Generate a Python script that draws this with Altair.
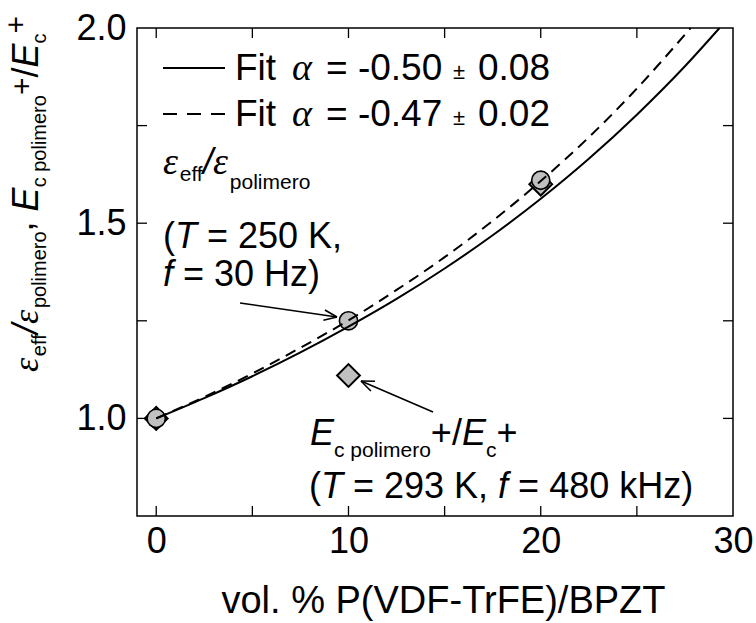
import math
import altair as alt
import pandas as pd

# ---------------- data ----------------
x_pct = [0, 10, 20]
eps_ratio = [1.0, 1.25, 1.61]          # circles: eps_eff / eps_polimero
ec_ratio = [1.0, 1.11, 1.60]           # diamonds: Ec polimero+ / Ec+

fit_x_solid = [0, 2.5, 5, 7.5, 10, 12.5, 15, 17.5, 20, 22.5, 25, 27.5, 29.3]
fit_y_solid = [1.0, 1.052, 1.108, 1.169, 1.235, 1.306, 1.384, 1.469, 1.5625, 1.665, 1.778, 1.902, 2.0]
fit_x_dash = [0, 2.5, 5, 7.5, 10, 12.5, 15, 17.5, 20, 22.5, 25, 27.5, 27.8]
fit_y_dash = [1.0, 1.055, 1.115, 1.181, 1.251, 1.329, 1.413, 1.506, 1.608, 1.720, 1.845, 1.983, 2.0]

x_major = [0, 10, 20]
x_minor = [5, 15, 25]
y_major = [1.0, 1.5]
y_minor = [1.25, 1.75]
x_labels = [0, 10, 20, 30]
y_labels = [1.0, 1.5, 2.0]

X_TITLE = "vol. % P(VDF-TrFE)/BPZT"

# ---------------- layout ----------------
W, H = 596, 488
OX, OY = 137, 28
SANS = "Liberation Sans"
SERIF = "Liberation Serif"

xs = alt.Scale(domain=[-1, 30], nice=False, zero=False)
ys = alt.Scale(domain=[0.75, 2.0], nice=False, zero=False)
xaxis = alt.Axis(values=x_labels, format="d", title=X_TITLE, labelFont=SANS, labelFontSize=36,
                 labelColor="black", ticks=False, domain=False, grid=False, labelPadding=8,
                 labelFlush=False, labelOverlap=False, titleFont=SANS, titleFontSize=38,
                 titleFontWeight="normal", titleColor="black", titleX=306, titleY=96,
                 titleBaseline="alphabetic")
yaxis = alt.Axis(values=y_labels, format=".1f", title="", labelFont=SANS, labelFontSize=36,
                 labelColor="black", ticks=False, domain=False, grid=False, labelPadding=11,
                 labelFlush=False, labelOverlap=False)


def X(field):
    return alt.X(field, type="quantitative", scale=xs, axis=xaxis)


def Y(field):
    return alt.Y(field, type="quantitative", scale=ys, axis=yaxis)


# ---------------- data layers ----------------
pts = pd.DataFrame({"x": x_pct, "eps": eps_ratio, "ec": ec_ratio})
diamonds = alt.Chart(pts).mark_point(shape="diamond", filled=True, fill="#c0c0c0", stroke="black",
                                     strokeWidth=2, size=520, opacity=1, fillOpacity=1).encode(
    x=X("x"), y=Y("ec"))
circles = alt.Chart(pts).mark_point(shape="circle", filled=True, fill="#c0c0c0", stroke="black",
                                    strokeWidth=1.6, size=330, opacity=1, fillOpacity=1).encode(
    x=X("x"), y=Y("eps"))

solid = alt.Chart(pd.DataFrame({"x": fit_x_solid, "y": fit_y_solid})).mark_line(
    color="black", strokeWidth=2, interpolate="monotone").encode(x=X("x"), y=Y("y"))
dashed = alt.Chart(pd.DataFrame({"x": fit_x_dash, "y": fit_y_dash})).mark_line(
    color="black", strokeWidth=2, strokeDash=[11, 7], interpolate="monotone").encode(x=X("x"), y=Y("y"))


# inward ticks on all four sides
def xticks(vals, length):
    d = pd.DataFrame({"v": vals})
    bottom = alt.Chart(d).mark_rule(color="black", strokeWidth=1.3).encode(
        x=X("v"), y=alt.value(H), y2=alt.value(H - length))
    top = alt.Chart(d).mark_rule(color="black", strokeWidth=1.3).encode(
        x=X("v"), y=alt.value(0), y2=alt.value(length))
    return [bottom, top]


def yticks(vals, length):
    d = pd.DataFrame({"v": vals})
    left = alt.Chart(d).mark_rule(color="black", strokeWidth=1.3).encode(
        y=Y("v"), x=alt.value(0), x2=alt.value(length))
    right = alt.Chart(d).mark_rule(color="black", strokeWidth=1.3).encode(
        y=Y("v"), x=alt.value(W), x2=alt.value(W - length))
    return [left, right]


tick_layers = xticks(x_major, 10) + xticks(x_minor, 10) + yticks(y_major, 10) + yticks(y_minor, 10)

# ---------------- text helpers ----------------
CW = {" ": .278, "(": .333, ")": .333, "=": .584, "+": .584, "-": .333, ".": .278, ",": .278,
      "/": .278, "%": .889, "±": .584, "B": .667, "D": .722, "E": .667, "F": .611, "H": .722,
      "K": .667, "P": .667, "T": .611, "V": .667, "Z": .611, "c": .5, "e": .556, "f": .278,
      "i": .222, "k": .5, "l": .222, "m": .833, "o": .556, "p": .556, "r": .333, "t": .278,
      "v": .5, "z": .5, "ε": .44, "α": .63}


def width(txt, size):
    return sum(CW.get(ch, .556) for ch in txt) * size


def piece(txt, X0, Y0, size, font=SANS, style="normal", angle=0):
    return alt.Chart(pd.DataFrame({"t": [txt]})).mark_text(
        font=font, fontSize=size, fontStyle=style, align="left", baseline="alphabetic",
        angle=angle, color="black").encode(x=alt.value(X0 - OX), y=alt.value(Y0 - OY), text="t:N")


def chain(segs, X0, Y0, angle=0):
    """segs: (text, size, font, style, shift); shift moves the baseline (down / right)."""
    out = []
    adv = 0.0
    for txt, size, font, style, shift in segs:
        lead = len(txt) - len(txt.lstrip(" "))
        body = txt.strip(" ")
        off = adv + width(" " * lead, size)
        if body:
            if angle == 0:
                out.append(piece(body, X0 + off, Y0 + shift, size, font, style))
            else:
                out.append(piece(body, X0 + shift, Y0 - off, size, font, style, angle))
        adv += width(txt, size)
    return out


F = 36
S = 21
texts = []
# legend (pieces placed as in the reference)
for base, val, err in ((80, "= -0.50", "0.08"), (126, "= -0.47", "0.02")):
    texts += [piece("Fit", 235, base, 37),
              piece("α", 292, base, 38, SERIF, "italic"),
              piece(val, 326, base, 37),
              piece("±", 453, base - 1, 22),
              piece(err, 478, base, 37)]
# eps annotation
texts += chain([("ε", 38, SERIF, "italic", 0), ("eff", S, SANS, "normal", 7),
                ("/", F, SANS, "italic", 0), ("ε", 38, SERIF, "italic", 0),
                ("polimero", S, SANS, "normal", 15)], 163, 174)
texts += chain([("(", F, SANS, "normal", 0), ("T", F, SANS, "italic", 0),
                (" = 250 K,", F, SANS, "normal", 0)], 163, 248)
texts += chain([("f", F, SANS, "italic", 0), (" = 30 Hz)", F, SANS, "normal", 0)], 163, 286)
# Ec annotation
texts += chain([("E", F, SANS, "italic", 0), ("c polimero", S, SANS, "normal", 12),
                ("+/", F, SANS, "normal", 0), ("E", F, SANS, "italic", 0),
                ("c", S, SANS, "normal", 12), ("+", F, SANS, "normal", 0)], 310, 445)
texts += chain([("(", F, SANS, "normal", 0), ("T", F, SANS, "italic", 0),
                (" = 293 K, ", F, SANS, "normal", 0), ("f", F, SANS, "italic", 0),
                (" = 480 kHz)", F, SANS, "normal", 0)], 309, 498)
# y-axis title (rotated)
texts += chain([("ε", F, SERIF, "italic", 0), ("eff", 20, SANS, "normal", 8),
                ("/", F, SANS, "italic", 0), ("ε", F, SERIF, "italic", 0),
                ("polimero", 20, SANS, "normal", 8), (",", F, SANS, "normal", -5),
                (" ", F, SANS, "normal", 0), ("E", F, SANS, "italic", 0),
                ("c polimero", 20, SANS, "normal", 8), ("+", 30, SANS, "normal", -6),
                ("/", F, SANS, "normal", 0), ("E", F, SANS, "italic", 0),
                ("c", 20, SANS, "normal", 8), ("+", 30, SANS, "normal", -12)], 38, 372, angle=270)


# ---------------- legend lines and arrows ----------------
def seg(x1, y1, x2, y2, dash=None, sw=1.6):
    kw = dict(color="black", strokeWidth=sw)
    if dash:
        kw["strokeDash"] = dash
    return alt.Chart(pd.DataFrame({"k": [0]})).mark_rule(**kw).encode(
        x=alt.value(x1 - OX), y=alt.value(y1 - OY), x2=alt.value(x2 - OX), y2=alt.value(y2 - OY))


def arrow(x1, y1, x2, y2, head=14, spread=22):
    a = math.atan2(y2 - y1, x2 - x1)
    out = [seg(x1, y1, x2, y2)]
    for s in (-1, 1):
        b = a + math.pi + s * math.radians(spread)
        out.append(seg(x2, y2, x2 + head * math.cos(b), y2 + head * math.sin(b)))
    return out


extras = [seg(163, 68, 225, 68, sw=2), seg(163, 114, 225, 114, dash=[14, 10], sw=2)]
extras += arrow(240, 303, 337, 317)
extras += arrow(433, 412, 361, 381)

chart = alt.layer(diamonds, circles, solid, dashed, *tick_layers, *extras, *texts).properties(
    width=W, height=H,
    padding={"left": OX, "top": OY, "right": 756 - OX - W, "bottom": 623 - OY - H},
    autosize=alt.AutoSizeParams(type="none"),
    background="white",
).configure_view(stroke="black", strokeWidth=1.5)

chart.save("out.html", embed_options={"renderer": "svg", "actions": False})
